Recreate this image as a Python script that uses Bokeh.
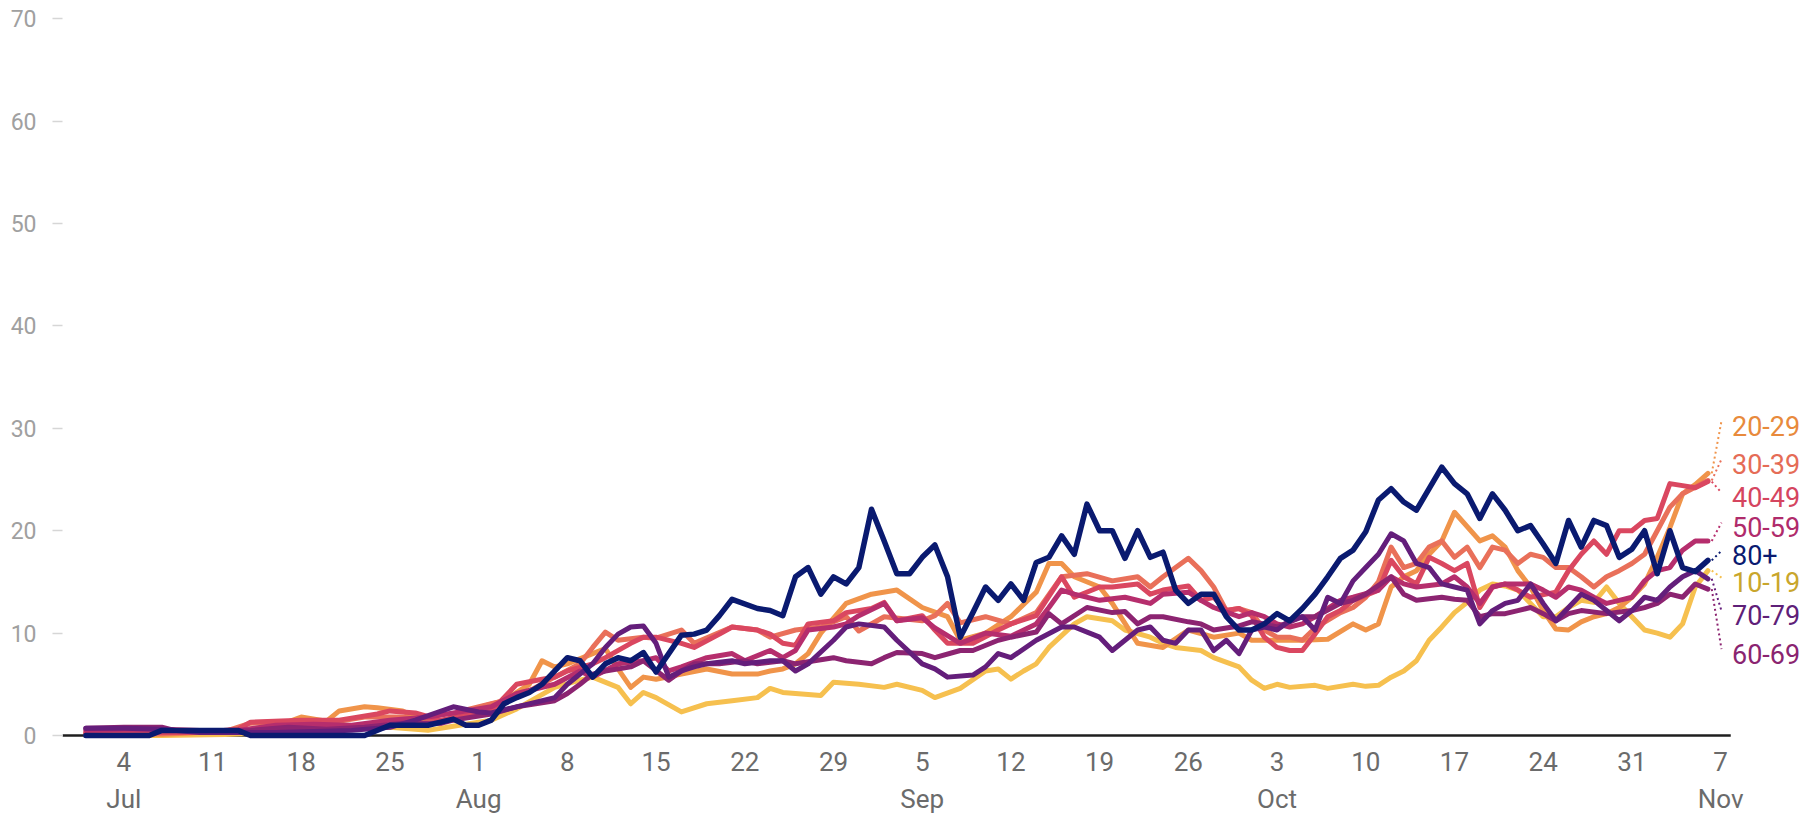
import pandas as pd
from bokeh.plotting import figure
from bokeh.models import Range1d, FixedTicker
from bokeh.core.properties import value
from bokeh.embed import file_html
from bokeh.resources import INLINE

YEAR = "2020"
BASE = pd.Timestamp("2020-07-04")

groups = ["10-19", "20-29", "30-39", "40-49", "50-59", "60-69", "70-79", "80+"]
line_colors = ["#f6c04f", "#f0944a", "#e9705a", "#da4760", "#b62e6d", "#8c2471", "#641e7b", "#0a1a70"]
label_colors = ["#c9a62c", "#e88a3c", "#e56c56", "#d5455f", "#b02b6b", "#8a2470", "#5e2078", "#0a1a70"]

s10 = [("07-01",0.0),("07-07",0.0),("07-12",0.1),("07-16",0.3),("07-19",0.5),("07-22",0.7),("07-25",0.8),("07-28",0.5),("07-30",0.9),
       ("08-02",1.5),("08-04",2.6),("08-07",4.7),("08-09",5.4),("08-10",5.7),("08-12",4.7),("08-13",3.1),("08-14",4.2),("08-15",3.7),
       ("08-17",2.3),("08-19",3.1),("08-21",3.4),("08-23",3.7),("08-24",4.6),("08-25",4.2),("08-26",4.1),("08-28",3.9),("08-29",5.2),
       ("08-31",5.0),("09-02",4.7),("09-03",5.0),("09-05",4.4),("09-06",3.7),("09-08",4.6),("09-10",6.3),("09-11",6.5),("09-12",5.5),
       ("09-13",6.3),("09-14",7.0),("09-15",8.6),("09-17",10.9),("09-18",11.6),("09-20",11.2),("09-21",10.3),("09-23",9.6),("09-24",9.0),
       ("09-25",8.6),("09-27",8.3),("09-28",7.6),("09-30",6.7),("10-01",5.4),("10-02",4.6),("10-03",5.0),("10-04",4.7),("10-06",4.9),
       ("10-07",4.6),("10-09",5.0),("10-10",4.8),("10-11",4.9),("10-12",5.7),("10-13",6.3),("10-14",7.3),("10-15",9.3),("10-16",10.6),
       ("10-17",12.0),("10-18",13.0),("10-19",14.2),("10-20",14.8),("10-21",14.6),("10-22",14.2),("10-23",12.9),("10-24",11.6),
       ("10-25",11.6),("10-26",12.5),("10-27",13.2),("10-28",13.0),("10-29",14.5),("10-30",12.9),("10-31",11.6),("11-01",10.3),
       ("11-02",10.0),("11-03",9.6),("11-04",10.9),("11-05",14.5),("11-06",16.1)]

s20 = [("07-01",0.1),("07-07",0.1),("07-13",0.5),("07-16",0.9),("07-18",1.8),("07-20",1.4),("07-21",2.4),("07-23",2.8),("07-24",2.7),
       ("07-26",2.4),("07-28",1.2),("07-30",1.5),("07-31",2.4),("08-03",3.4),("08-05",5.0),("08-06",7.3),("08-07",6.7),("08-08",7.0),
       ("08-10",8.0),("08-11",8.5),("08-12",6.5),("08-13",4.7),("08-14",5.7),("08-15",5.5),("08-17",6.0),("08-19",6.5),("08-21",6.0),
       ("08-23",6.0),("08-24",6.3),("08-25",6.5),("08-26",7.0),("08-27",8.0),("08-28",10.0),("08-30",12.9),("09-01",13.8),("09-03",14.2),
       ("09-05",12.5),("09-07",11.6),("09-08",9.3),("09-10",10.0),("09-12",11.6),("09-14",14.0),("09-15",16.8),("09-16",16.8),
       ("09-17",15.5),("09-19",14.5),("09-20",12.9),("09-22",9.0),("09-24",8.6),("09-26",10.3),("09-28",9.6),("09-30",10.0),
       ("10-01",9.3),("10-03",9.3),("10-05",9.3),("10-07",9.4),("10-09",10.9),("10-10",10.3),("10-11",10.9),("10-12",14.5),
       ("10-13",15.5),("10-14",16.1),("10-15",17.7),("10-16",19.0),("10-17",21.8),("10-19",19.0),("10-20",19.5),("10-21",18.4),
       ("10-22",16.1),("10-23",14.5),("10-24",12.2),("10-25",10.4),("10-26",10.3),("10-27",11.1),("10-28",11.6),("10-29",11.9),
       ("10-30",12.5),("10-31",13.5),("11-01",14.8),("11-02",17.4),("11-03",20.3),("11-04",23.6),("11-05",24.5),("11-06",25.6)]

s30 = [("07-01",0.2),("07-07",0.2),("07-12",0.4),("07-14",1.2),("07-17",1.3),("07-20",1.2),("07-23",1.8),("07-26",1.8),("07-29",1.2),
       ("07-31",2.5),("08-02",3.1),("08-04",3.7),("08-07",5.7),("08-09",7.0),("08-10",8.6),("08-11",10.1),("08-12",9.3),("08-14",9.6),
       ("08-15",9.5),("08-17",10.3),("08-18",9.0),("08-21",10.6),("08-23",10.3),("08-24",9.6),("08-26",10.3),("08-28",10.6),
       ("08-30",11.6),("08-31",10.2),("09-02",11.6),("09-05",11.2),("09-06",11.7),("09-07",12.9),("09-08",11.0),("09-10",11.6),
       ("09-12",10.9),("09-14",12.0),("09-16",15.5),("09-18",15.8),("09-20",15.1),("09-22",15.5),("09-23",14.5),("09-24",15.5),
       ("09-26",17.3),("09-27",16.1),("09-28",14.5),("09-29",12.2),("09-30",12.4),("10-01",12.0),("10-02",10.3),("10-03",9.6),
       ("10-04",9.6),("10-05",9.3),("10-06",10.5),("10-08",12.0),("10-09",12.5),("10-10",13.5),("10-11",15.0),("10-12",18.4),
       ("10-13",16.4),("10-14",16.8),("10-15",18.4),("10-16",19.0),("10-17",17.4),("10-18",18.4),("10-19",16.4),("10-20",18.4),
       ("10-21",18.1),("10-22",16.8),("10-23",17.7),("10-24",17.4),("10-25",16.4),("10-26",16.4),("10-27",15.5),("10-28",14.5),
       ("10-29",15.5),("10-30",16.1),("10-31",16.8),("11-01",17.7),("11-02",20.0),("11-03",22.3),("11-04",23.6),("11-06",24.9)]

s40 = [("07-01",0.3),("07-07",0.3),("07-10",0.3),("07-13",0.6),("07-14",1.3),("07-18",1.5),("07-21",1.5),("07-24",2.1),("07-25",2.4),
       ("07-27",2.2),("07-29",1.5),("08-02",2.4),("08-04",5.0),("08-06",5.5),("08-07",5.7),("08-08",6.3),("08-10",7.0),("08-11",7.6),
       ("08-13",9.0),("08-14",9.6),("08-15",9.6),("08-17",9.0),("08-18",8.6),("08-20",9.9),("08-21",10.6),("08-23",10.3),("08-24",9.9),
       ("08-25",9.0),("08-26",8.8),("08-27",10.9),("08-29",11.2),("08-30",12.0),("09-01",12.4),("09-02",13.0),("09-03",11.2),
       ("09-05",11.7),("09-06",10.3),("09-07",9.0),("09-09",9.0),("09-11",10.3),("09-12",10.9),("09-14",11.7),("09-16",15.5),
       ("09-17",13.5),("09-19",14.5),("09-20",14.5),("09-22",14.8),("09-23",13.8),("09-24",14.2),("09-26",14.6),("09-27",13.2),
       ("09-28",13.5),("09-29",12.2),("09-30",12.4),("10-01",11.7),("10-02",9.6),("10-03",8.6),("10-04",8.3),("10-05",8.3),
       ("10-06",9.9),("10-07",11.6),("10-08",12.2),("10-09",13.2),("10-11",14.2),("10-12",17.1),("10-13",15.5),("10-14",14.8),
       ("10-15",17.4),("10-16",16.8),("10-17",16.1),("10-18",16.8),("10-19",12.5),("10-20",14.5),("10-21",14.8),("10-22",14.2),
       ("10-23",13.5),("10-25",14.0),("10-26",16.1),("10-27",17.7),("10-28",19.0),("10-29",17.7),("10-30",20.0),("10-31",20.0),
       ("11-01",21.0),("11-02",21.2),("11-03",24.6),("11-04",24.4),("11-05",24.2),("11-06",24.8)]

s50 = [("07-01",0.5),("07-04",0.6),("07-07",0.6),("07-10",0.5),("07-13",0.5),("07-16",1.0),("07-19",1.1),("07-22",1.0),("07-25",1.5),
       ("07-28",1.8),("07-30",2.2),("08-02",2.8),("08-04",4.1),("08-07",5.0),("08-09",6.3),("08-10",5.7),("08-12",7.0),("08-14",7.3),
       ("08-15",7.6),("08-16",6.3),("08-17",6.7),("08-19",7.6),("08-21",8.0),("08-22",7.3),("08-24",8.3),("08-25",7.6),("08-26",8.3),
       ("08-27",10.3),("08-29",10.6),("08-30",10.9),("08-31",11.7),("09-02",12.9),("09-03",11.2),("09-05",11.5),("09-06",10.5),
       ("09-08",9.0),("09-10",10.0),("09-12",9.7),("09-14",10.9),("09-15",12.5),("09-16",14.2),("09-17",13.8),("09-19",13.2),
       ("09-21",13.5),("09-23",12.9),("09-24",13.8),("09-26",14.0),("09-27",13.2),("09-28",12.5),("09-30",11.6),("10-01",12.0),
       ("10-02",11.6),("10-03",10.9),("10-04",10.6),("10-05",10.9),("10-06",11.6),("10-08",13.2),("10-09",13.5),("10-11",14.2),
       ("10-12",15.5),("10-13",14.8),("10-14",14.5),("10-16",14.8),("10-17",15.5),("10-18",14.5),("10-19",12.9),("10-20",14.5),
       ("10-21",14.8),("10-23",14.8),("10-24",14.2),("10-25",13.5),("10-26",14.5),("10-27",14.2),("10-28",13.5),("10-29",12.9),
       ("10-30",13.2),("10-31",13.5),("11-01",15.1),("11-02",16.1),("11-03",16.4),("11-04",18.1),("11-05",19.0),("11-06",19.0)]

s60 = [("07-01",0.7),("07-04",0.8),("07-07",0.8),("07-08",0.5),("07-11",0.4),("07-14",0.5),("07-17",0.8),("07-20",0.6),("07-23",0.8),
       ("07-26",1.2),("07-29",1.2),("07-30",1.5),("08-02",2.1),("08-04",2.8),("08-07",3.4),("08-08",4.1),("08-09",5.0),("08-10",6.0),
       ("08-11",6.3),("08-13",6.7),("08-14",7.3),("08-16",5.4),("08-17",6.3),("08-18",7.0),("08-20",7.0),("08-22",7.3),("08-23",7.0),
       ("08-25",7.3),("08-26",7.0),("08-29",7.6),("08-30",7.3),("09-01",7.0),("09-02",7.6),("09-03",8.1),("09-05",8.0),("09-06",7.6),
       ("09-08",8.3),("09-09",8.3),("09-11",9.3),("09-12",9.6),("09-14",10.1),("09-15",11.9),("09-16",10.9),("09-18",12.5),
       ("09-20",12.0),("09-21",12.1),("09-22",10.9),("09-23",11.6),("09-24",11.6),("09-26",11.1),("09-27",10.9),("09-28",10.3),
       ("09-29",10.5),("09-30",10.7),("10-01",11.1),("10-02",10.9),("10-03",10.6),("10-04",11.1),("10-05",11.6),("10-06",11.6),
       ("10-08",12.9),("10-09",13.2),("10-10",13.8),("10-12",15.5),("10-13",13.8),("10-14",13.2),("10-16",13.5),("10-17",13.3),
       ("10-18",13.2),("10-19",11.6),("10-20",11.9),("10-21",11.9),("10-22",12.2),("10-23",12.5),("10-24",11.9),("10-25",11.2),
       ("10-26",11.9),("10-27",12.2),("10-29",11.9),("10-31",12.2),("11-01",12.5),("11-02",12.9),("11-03",13.8),("11-04",13.5),
       ("11-05",14.8),("11-06",14.3)]

s70 = [("07-01",0.7),("07-04",0.7),("07-07",0.6),("07-10",0.3),("07-16",0.3),("07-19",0.4),("07-22",0.5),("07-25",0.8),("07-27",1.5),
       ("07-30",2.8),("08-01",2.3),("08-02",2.2),("08-04",2.8),("08-07",3.7),("08-08",5.0),("08-09",6.0),("08-10",7.0),("08-11",8.6),
       ("08-12",9.9),("08-13",10.6),("08-14",10.7),("08-15",9.0),("08-16",5.7),("08-17",6.3),("08-18",6.7),("08-19",7.0),("08-21",7.3),
       ("08-22",7.0),("08-24",7.3),("08-25",7.3),("08-26",6.3),("08-27",7.0),("08-29",9.3),("08-30",10.6),("08-31",10.9),("09-02",10.6),
       ("09-03",9.3),("09-05",7.0),("09-06",6.5),("09-07",5.7),("09-09",5.9),("09-10",6.7),("09-11",8.0),("09-12",7.6),("09-14",9.3),
       ("09-16",10.6),("09-17",10.6),("09-19",9.6),("09-20",8.3),("09-22",10.3),("09-23",10.6),("09-24",9.3),("09-25",9.0),("09-26",10.3),
       ("09-27",10.3),("09-28",8.3),("09-29",9.3),("09-30",8.0),("10-01",10.3),("10-02",10.6),("10-03",10.3),("10-04",11.2),
       ("10-05",11.6),("10-06",10.3),("10-07",13.5),("10-08",12.9),("10-09",15.1),("10-10",16.4),("10-11",17.7),("10-12",19.7),
       ("10-13",19.0),("10-14",16.8),("10-15",16.4),("10-16",14.8),("10-17",14.5),("10-18",14.2),("10-19",10.9),("10-20",12.2),
       ("10-21",12.9),("10-22",13.2),("10-23",14.8),("10-24",12.9),("10-25",11.2),("10-26",12.5),("10-27",13.8),("10-28",13.2),
       ("10-29",12.2),("10-30",11.2),("10-31",12.2),("11-01",13.5),("11-02",13.2),("11-03",14.5),("11-04",15.5),("11-05",16.1),
       ("11-06",15.3)]

s80 = [("07-01",0.0),("07-04",0.0),("07-06",0.0),("07-07",0.5),("07-13",0.5),("07-14",0.0),("07-23",0.0),("07-25",1.0),("07-28",1.0),
       ("07-30",1.6),("07-31",1.0),("08-01",1.0),("08-02",1.5),("08-03",3.1),("08-04",3.7),("08-05",4.2),("08-06",5.0),("08-08",7.6),
       ("08-09",7.3),("08-10",5.7),("08-11",7.0),("08-12",7.6),("08-13",7.3),("08-14",8.1),("08-15",6.2),("08-16",8.0),("08-17",9.8),
       ("08-18",9.9),("08-19",10.3),("08-20",11.7),("08-21",13.3),("08-23",12.4),("08-24",12.2),("08-25",11.7),("08-26",15.5),
       ("08-27",16.4),("08-28",13.8),("08-29",15.5),("08-30",14.8),("08-31",16.4),("09-01",22.1),("09-02",19.0),("09-03",15.8),
       ("09-04",15.8),("09-05",17.4),("09-06",18.6),("09-07",15.5),("09-08",9.6),("09-09",12.0),("09-10",14.5),("09-11",13.2),
       ("09-12",14.8),("09-13",13.2),("09-14",16.9),("09-15",17.4),("09-16",19.5),("09-17",17.7),("09-18",22.6),("09-19",20.0),
       ("09-20",20.0),("09-21",17.3),("09-22",20.0),("09-23",17.4),("09-24",17.9),("09-25",14.2),("09-26",12.9),("09-27",13.8),
       ("09-28",13.8),("09-29",11.6),("09-30",10.3),("10-01",10.3),("10-02",10.9),("10-03",11.9),("10-04",11.2),("10-05",12.4),
       ("10-06",13.8),("10-07",15.5),("10-08",17.3),("10-09",18.1),("10-10",19.9),("10-11",23.0),("10-12",24.1),("10-13",22.8),
       ("10-14",22.0),("10-15",24.1),("10-16",26.2),("10-17",24.6),("10-18",23.6),("10-19",21.2),("10-20",23.6),("10-21",22.0),
       ("10-22",20.0),("10-23",20.5),("10-24",18.7),("10-25",16.8),("10-26",21.0),("10-27",18.4),("10-28",21.0),("10-29",20.5),
       ("10-30",17.4),("10-31",18.2),("11-01",20.0),("11-02",15.8),("11-03",20.0),("11-04",16.4),("11-05",16.0),("11-06",17.1)]

series = [s10, s20, s30, s40, s50, s60, s70, s80]

tick_dates = ["07-04", "07-11", "07-18", "07-25", "08-01", "08-08", "08-15", "08-22", "08-29", "09-05",
              "09-12", "09-19", "09-26", "10-03", "10-10", "10-17", "10-24", "10-31", "11-07"]
tick_labels = ["4\nJul", "11", "18", "25", "1\nAug", "8", "15", "22", "29", "5\nSep",
               "12", "19", "26", "3\nOct", "10", "17", "24", "31", "7\nNov"]
y_ticks = [0, 10, 20, 30, 40, 50, 60, 70]

# layout (not data): vertical position of each end label, in value units, same order as groups
label_y = [14.97, 30.27, 26.53, 23.27, 20.34, 7.98, 11.72, 17.58]


def day(s):
    return (pd.Timestamp(f"{YEAR}-{s}") - BASE).days


X0, X1 = -4.837, 132.62
Y0, Y1 = -0.977, 70.215
BASELINE_END = 126.8
LEADER_END = 126.07
LABEL_X = 126.9

p = figure(width=1804, height=817, x_range=Range1d(X0, X1), y_range=Range1d(Y0, Y1),
           output_backend="svg", toolbar_location=None,
           min_border_left=62, min_border_right=0, min_border_top=16, min_border_bottom=72)
p.outline_line_color = None
p.grid.visible = False
p.background_fill_color = "white"
p.border_fill_color = "white"

# y axis
p.yaxis.ticker = FixedTicker(ticks=y_ticks)
p.yaxis.axis_line_color = None
p.yaxis.major_tick_out = 10
p.yaxis.major_tick_in = 0
p.yaxis.major_tick_line_color = "#d6d6d6"
p.yaxis.major_tick_line_width = 1.5
p.yaxis.minor_tick_line_color = None
p.yaxis.major_label_text_font = "Roboto"
p.yaxis.major_label_text_font_size = "23px"
p.yaxis.major_label_text_color = "#a0a0a0"
p.yaxis.major_label_standoff = 16

# x axis
p.xaxis.ticker = FixedTicker(ticks=[day(d) for d in tick_dates])
p.xaxis.major_label_overrides = {day(d): lab for d, lab in zip(tick_dates, tick_labels)}
p.xaxis.axis_line_color = None
p.xaxis.major_tick_line_color = None
p.xaxis.minor_tick_line_color = None
p.xaxis.major_label_text_font = "Roboto"
p.xaxis.major_label_text_font_size = "26px"
p.xaxis.major_label_text_line_height = 1.25
p.xaxis.major_label_text_color = "#6b6b6b"
p.xaxis.major_label_standoff = -5

# baseline
p.segment(x0=[X0], y0=[0], x1=[BASELINE_END], y1=[0], line_color="#1f1f1f", line_width=2.5)

for g, s, c in zip(groups, series, line_colors):
    xs = [day(d) for d, _ in s]
    ys = [v for _, v in s]
    lw = 5.5 if g == "80+" else 5
    p.line(xs, ys, line_color=c, line_width=lw, line_join="round", line_cap="round")

for g, s, c, lc, ly in zip(groups, series, line_colors, label_colors, label_y):
    lx = day(s[-1][0])
    lv = s[-1][1]
    p.segment(x0=[lx + 0.3], y0=[lv], x1=[LEADER_END], y1=[ly + 0.45],
              line_color=c, line_width=2, line_dash="2 3")
    p.text(x=[LABEL_X], y=[ly], text=[g], text_color=lc, text_font=value("Roboto"),
           text_font_size="27px", text_baseline="middle", text_align="left")

open("out.html", "w").write(file_html(p, INLINE))
